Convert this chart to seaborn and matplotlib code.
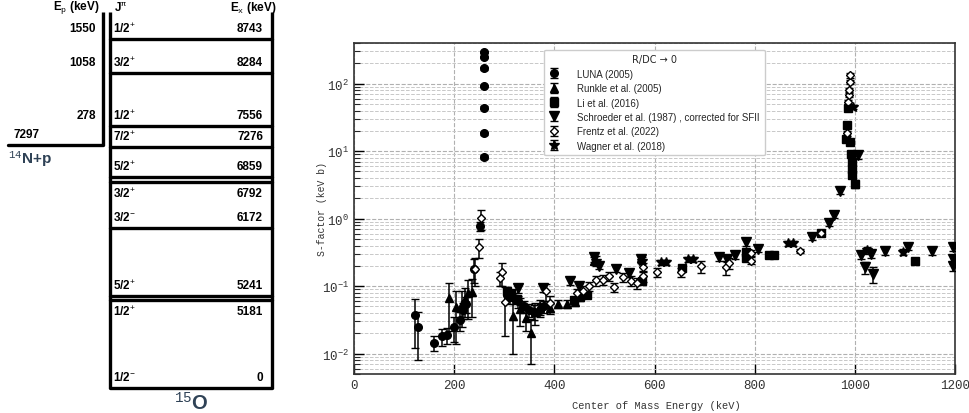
import numpy as np
import matplotlib
matplotlib.use("Agg")
import matplotlib.pyplot as plt
import seaborn as sns

# ─────────────────────────────────────────────
# DATA — level scheme of 15O
# ─────────────────────────────────────────────
level_ex = [8743, 8284, 7556, 7276, 6859, 6792, 6172, 5241, 5181, 0]
level_jpi = ["1/2$^{+}$", "3/2$^{+}$", "1/2$^{+}$", "7/2$^{+}$", "5/2$^{+}$",
             "3/2$^{+}$", "3/2$^{-}$", "5/2$^{+}$", "1/2$^{+}$", "1/2$^{-}$"]
label_below = [False, False, False, False, False, True, False, False, True, False]
res_ep = [1550, 1058, 278]
res_ex = [8743, 8284, 7556]
threshold = 7297

# ─────────────────────────────────────────────
# DATA — S-factor measurements (Ecm keV, S keV b, dS)
# ─────────────────────────────────────────────
luna_E = [121, 127, 160, 175, 185, 200, 211, 218, 224, 240, 251,
          258.6, 258.9, 259.1, 259.3, 259.5, 259.7, 259.9,
          305, 312, 320, 328, 340, 350, 360, 372, 380]
luna_S = [0.038, 0.025, 0.0145, 0.018, 0.019, 0.025, 0.032, 0.045, 0.055, 0.18, 0.78,
          8.2, 18.3, 44, 93, 170, 251, 295,
          0.075, 0.07, 0.067, 0.06, 0.05, 0.045, 0.042, 0.045, 0.05]
luna_dS = [0.026, 0.017, 0.0035, 0.005, 0.005, 0.01, 0.01, 0.012, 0.015, 0.07, 0.12,
           0.5, 1, 2, 4, 8, 10, 12,
           0.015, 0.015, 0.012, 0.012, 0.01, 0.01, 0.01, 0.01, 0.01]

runkle_E = [190, 204, 215, 222, 228, 235, 318, 331, 344, 353, 362, 372, 392,
            408, 425, 441, 480, 574]
runkle_S = [0.067, 0.049, 0.055, 0.065, 0.078, 0.082, 0.036, 0.046, 0.034, 0.020,
            0.042, 0.05, 0.047, 0.055, 0.055, 0.058, 0.24, 0.26]
runkle_dS = [0.045, 0.035, 0.03, 0.03, 0.045, 0.047, 0.026, 0.02, 0.012, 0.013,
             0.015, 0.012, 0.008, 0.008, 0.008, 0.008, 0.03, 0.03]

li_E = [306, 314, 326, 440, 452, 465, 575, 655, 782, 782, 829, 839, 933,
        982, 985, 987, 991, 993, 994, 995, 995, 1000, 1121]
li_S = [0.085, 0.078, 0.065, 0.062, 0.068, 0.075, 0.12, 0.186, 0.32, 0.26, 0.286,
        0.286, 0.62, 15.3, 24, 43, 13.7, 9.2, 6.9, 5.5, 4.4, 3.3, 0.236]
li_dS = [0.008, 0.008, 0.007, 0.006, 0.007, 0.008, 0.012, 0.015, 0.025, 0.02, 0.02,
         0.02, 0.04, 1, 1.5, 3, 1, 0.7, 0.5, 0.4, 0.35, 0.5, 0.02]

schroeder_E = [328, 378, 432, 450, 480, 490, 524, 549, 574, 728, 744, 760, 782,
               806, 914, 949, 959, 971, 1006, 1012, 1021, 1032, 1036, 1061,
               1107, 1154, 1197, 1197, 1197]
schroeder_S = [0.094, 0.093, 0.12, 0.1, 0.27, 0.2, 0.18, 0.157, 0.25, 0.27, 0.255,
               0.286, 0.45, 0.36, 0.53, 0.87, 1.12, 2.54, 8.7, 0.286, 0.19, 0.3,
               0.153, 0.33, 0.38, 0.33, 0.38, 0.25, 0.2]
schroeder_dS = [0.015, 0.012, 0.015, 0.012, 0.04, 0.02, 0.02, 0.02, 0.03, 0.03, 0.03,
                0.03, 0.05, 0.04, 0.05, 0.08, 0.1, 0.2, 1.0, 0.03, 0.04, 0.04,
                0.04, 0.04, 0.04, 0.04, 0.05, 0.04, 0.03]

frentz_E = [241, 250, 253, 292, 296, 301, 383, 391, 445, 457, 470, 484, 497, 510,
            519, 537, 553, 565, 577, 577, 604, 652, 693, 742, 748, 792, 792, 891,
            933, 985, 987, 988, 989, 990, 991]
frentz_S = [0.18, 0.38, 1.02, 0.13, 0.16, 0.058, 0.084, 0.056, 0.078, 0.086, 0.1,
            0.122, 0.125, 0.14, 0.098, 0.137, 0.12, 0.11, 0.19, 0.14, 0.16, 0.162,
            0.197, 0.19, 0.22, 0.31, 0.24, 0.33, 0.62, 18.3, 54, 68, 80, 106, 133]
frentz_dS = [0.08, 0.12, 0.33, 0.03, 0.06, 0.04, 0.023, 0.015, 0.012, 0.014, 0.015,
             0.02, 0.02, 0.02, 0.015, 0.02, 0.02, 0.02, 0.03, 0.025, 0.025, 0.025,
             0.04, 0.045, 0.04, 0.03, 0.03, 0.02, 0.04, 1.5, 4, 5, 6, 8, 10]

wagner_E = [483, 575, 613, 623, 667, 677, 866, 876, 996, 1025, 1097]
wagner_S = [0.24, 0.24, 0.228, 0.228, 0.25, 0.25, 0.43, 0.43, 45, 0.34, 0.32]
wagner_dS = [0.04, 0.03, 0.02, 0.02, 0.02, 0.02, 0.03, 0.03, 3, 0.04, 0.03]

# ─────────────────────────────────────────────
# STYLE
# ─────────────────────────────────────────────
sns.set_theme(style="ticks")
plt.rcParams["font.family"] = ["Liberation Mono", "DejaVu Sans"]
plt.rcParams["mathtext.fontset"] = "custom"
plt.rcParams["mathtext.rm"] = "Liberation Mono"
plt.rcParams["mathtext.it"] = "Liberation Mono"
plt.rcParams["mathtext.bf"] = "Liberation Mono:bold"

fig = plt.figure(figsize=(9.7, 4.14), dpi=100)

# ─────────────────────────────────────────────
# 1. LEVEL SCHEME (left)
# ─────────────────────────────────────────────
W_PX = 290
ax_lv = fig.add_axes([0, 0, W_PX / 970, 1])
ax_lv.set_xlim(0, W_PX)
ax_lv.set_ylim(3647, 9287)
ax_lv.axis("off")

GROUND_Y = 3990        # ground state drawn below a broken scale
TOP_Y = 9110
X_THR, X_EP, X_L, X_R = 8, 103, 110, 272
LW = 2.4
OFF = 150              # label offset from its line (keV on the drawing scale)
lab = dict(family=["Liberation Sans", "DejaVu Sans"], fontweight="bold",
           fontsize=8.5, color="black")

def draw_y(e):
    return e if e > 1000 else GROUND_Y

ax_lv.plot([X_L, X_L], [TOP_Y, GROUND_Y], color="black", lw=LW, solid_capstyle="butt")
ax_lv.plot([X_R, X_R], [TOP_Y, GROUND_Y], color="black", lw=LW, solid_capstyle="butt")
ax_lv.plot([X_EP, X_EP], [TOP_Y, threshold], color="black", lw=LW, solid_capstyle="butt")
ax_lv.plot([X_THR, X_EP], [threshold, threshold], color="black", lw=LW)

for ex, jpi, below in zip(level_ex, level_jpi, label_below):
    y = draw_y(ex)
    ax_lv.plot([X_L, X_R], [y, y], color="black", lw=LW)
    ty = y - OFF if below else y + OFF
    ax_lv.text(X_L + 3, ty, jpi, ha="left", va="center", **lab)
    ax_lv.text(X_R - 9, ty, str(ex), ha="right", va="center", **lab)

for ep, ex in zip(res_ep, res_ex):
    ax_lv.text(X_EP - 7, ex + OFF, str(ep), ha="right", va="center", **lab)

ax_lv.text(X_THR + 6, threshold + OFF, str(threshold), ha="left", va="center", **lab)
ax_lv.text(X_EP - 3, 9180, "E$_\\mathrm{p}$ (keV)", ha="right", va="center", **lab)
ax_lv.text(X_L + 4, 9180, "J$^{\\pi}$", ha="left", va="center", **lab)
ax_lv.text(X_R + 5, 9180, "E$_\\mathrm{x}$ (keV)", ha="right", va="center", **lab)

nuc = dict(family=["Liberation Sans", "DejaVu Sans"], fontweight="bold",
           color="#2f4256")
ax_lv.text(X_THR, threshold - 40, "$^{14}$N+p", ha="left", va="top", fontsize=11, **nuc)
ax_lv.text((X_L + X_R) / 2, GROUND_Y - 190, "$^{15}$O", ha="center", va="center",
           fontsize=14.5, **nuc)

# ─────────────────────────────────────────────
# 2. S-FACTOR PLOT (right)
# ─────────────────────────────────────────────
ax = fig.add_axes([354 / 970, 1 - 375 / 414, 601 / 970, 331 / 414])
ax.set_yscale("log")

sets = [
    ("LUNA (2005)", luna_E, luna_S, luna_dS, "o", "black", 5.5),
    ("Runkle et al. (2005)", runkle_E, runkle_S, runkle_dS, "^", "black", 5.5),
    ("Li et al. (2016)", li_E, li_S, li_dS, "s", "black", 5.5),
    ("Schroeder et al. (1987) , corrected for SFII", schroeder_E, schroeder_S,
     schroeder_dS, "v", "black", 6.5),
    ("Frentz et al. (2022)", frentz_E, frentz_S, frentz_dS, "D", "white", 4.2),
    ("Wagner et al. (2018)", wagner_E, wagner_S, wagner_dS, "*", "black", 7),
]
for name, e, s, ds, mk, fc, ms in sets:
    s = np.array(s)
    ds = np.array(ds)
    lo = np.minimum(ds, s * 0.8)
    ax.errorbar(e, s, yerr=[lo, ds], fmt=mk, color="black", mfc=fc, mec="black",
                ms=ms, mew=1.0, ecolor="black", elinewidth=1.1, capsize=3,
                capthick=1.1, label=name, zorder=3)

ax.set_xlim(0, 1200)
ax.set_ylim(5e-3, 4e2)
ax.set_xticks([0, 200, 400, 600, 800, 1000, 1200])
ax.grid(True, which="major", ls="--", color="#b0b0b0", lw=0.8)
ax.grid(True, which="minor", axis="y", ls="--", color="#c8c8c8", lw=0.7)
ax.tick_params(axis="both", which="major", direction="in", length=7, width=1,
               labelsize=9, colors="black", labelcolor="#333333")
ax.tick_params(axis="y", which="minor", direction="in", length=4, width=0.8)
ax.tick_params(axis="x", which="minor", bottom=False)
for sp in ax.spines.values():
    sp.set_color("#333333")
    sp.set_linewidth(1.2)

ax.set_xlabel("Center of Mass Energy (keV)", fontsize=7.5, color="#333333")
ax.set_ylabel("S-factor (keV b)", fontsize=7, color="#333333")
ax.xaxis.set_label_coords(0.503, -0.078)
ax.yaxis.set_label_coords(-0.045, 0.5)

leg = ax.legend(loc="upper center", bbox_to_anchor=(0.5, 0.995),
                title="R/DC \u2192 0", frameon=True,
                fancybox=True, edgecolor="#cccccc", framealpha=1,
                handlelength=1.0, handletextpad=1.9, labelspacing=0.45,
                borderpad=0.5, prop={"family": "Liberation Sans", "size": 7})
leg.get_title().set_family("DejaVu Sans")
leg.get_title().set_fontsize(7)

plt.savefig("out.png", dpi=100)
